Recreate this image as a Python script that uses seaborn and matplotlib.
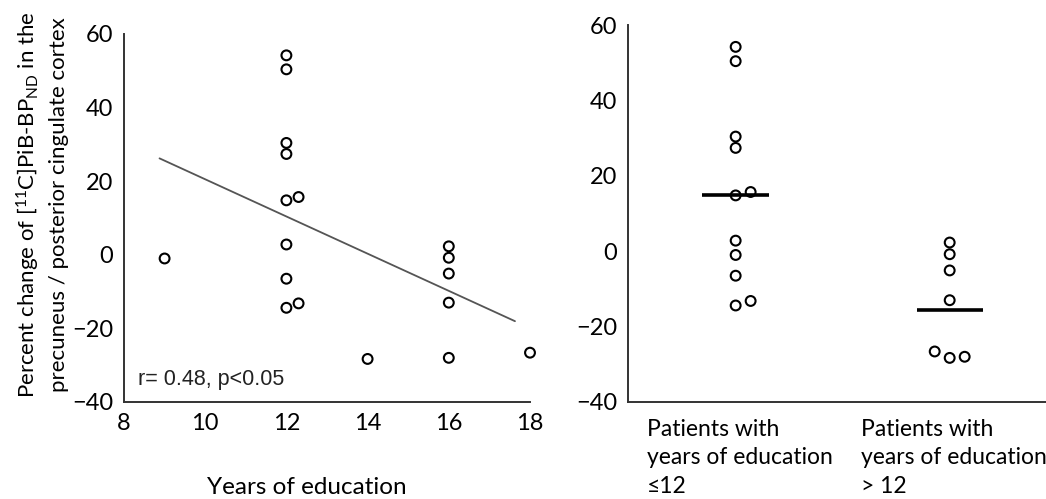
import numpy as np
import pandas as pd
import matplotlib
matplotlib.use("Agg")
import matplotlib.pyplot as plt
from matplotlib.transforms import ScaledTranslation
import seaborn as sns

# values
years = [9, 12, 12, 12, 12, 12, 12, 12, 12, 12, 12, 14, 16, 16, 16, 16, 16, 18]
pib_change = [-1.0, 54.2, 50.4, 30.4, 27.4, 15.7, 14.8, 2.8, -6.5, -14.4, -13.2,
              -28.3, 2.3, -0.8, -5.1, -13.0, -28.0, -26.6]
fit_span = [8.875, 17.63]
group_labels = ["Patients with\nyears of education\n\u226412",
                "Patients with\nyears of education\n> 12"]
group_bar = [14.9, -15.7]
stat_text = "r= 0.48, p<0.05"

df = pd.DataFrame({"years": years, "change": pib_change})
df["group"] = np.where(df["years"] <= 12, 0, 1)


def spread(values, step, gap=2.0):
    # push near-equal values sideways: 0, +step, -step, ...
    v = np.asarray(values, dtype=float)
    order = np.argsort(v)
    out = np.zeros(len(v))
    pattern = [0, 1, -1, 2, -2]
    k = 0
    for i, idx in enumerate(order):
        if i > 0 and v[idx] - v[order[i - 1]] < gap:
            k += 1
        else:
            k = 0
        out[idx] = pattern[k % len(pattern)] * step
    return out


df["x_left"] = df["years"].astype(float)
for yr, sub in df.groupby("years"):
    df.loc[sub.index, "x_left"] = yr + spread(sub["change"], 0.3)
df["x_right"] = df["group"].astype(float)
for g, sub in df.groupby("group"):
    df.loc[sub.index, "x_right"] = g + spread(sub["change"], 0.07)

sns.set_style("white")
plt.rcParams["font.family"] = ["Lato", "DejaVu Sans"]
plt.rcParams["mathtext.fontset"] = "custom"
plt.rcParams["mathtext.rm"] = "Lato"
plt.rcParams["mathtext.it"] = "Lato:italic"
plt.rcParams["text.color"] = "black"
plt.rcParams["xtick.color"] = "black"
plt.rcParams["ytick.color"] = "black"
plt.rcParams["axes.labelcolor"] = "black"

fig = plt.figure(figsize=(10.46, 4.99), dpi=100)
ax1 = fig.add_axes([124 / 1046, 97 / 499, 406 / 1046, 368 / 499])
ax2 = fig.add_axes([628 / 1046, 97 / 499, 418 / 1046, 377 / 499])

spine_col = "#333333"
for ax in (ax1, ax2):
    for s in ("top", "right"):
        ax.spines[s].set_visible(False)
    for s in ("left", "bottom"):
        ax.spines[s].set_color(spine_col)
        ax.spines[s].set_linewidth(1.4)
    ax.set_ylim(-40, 60)
    ax.set_yticks([-40, -20, 0, 20, 40, 60])
    ax.tick_params(axis="y", length=6, width=1.2, color=spine_col, labelsize=17, pad=2)

# left: scatter with regression line
sns.scatterplot(data=df, x="x_left", y="change", ax=ax1, s=50, marker="o",
                facecolors="none", edgecolors="black", linewidth=1.5, clip_on=False)
slope, icpt = np.polyfit(df["years"], df["change"], 1)
xs = np.array(fit_span)
ax1.plot(xs, slope * xs + icpt, color="#555555", lw=1.3)
ax1.set_xlim(8, 18)
ax1.set_xticks([8, 10, 12, 14, 16, 18])
ax1.tick_params(axis="x", length=6, width=1.2, color=spine_col, labelsize=17, pad=2)
ax1.set_xlabel("Years of education", fontsize=17.5)
ax1.xaxis.set_label_coords((307 - 124) / 406, -0.205)
ax1.set_ylabel("")
ax1.text(8.345, -35.5, stat_text, fontsize=15.5, va="baseline",
         family=["Liberation Sans", "DejaVu Sans"], color="#222222")

fig.text(42 / 1046, 0.589,
         "Percent change of [$^{\\mathregular{11}}$C]PiB-BP$_{\\mathregular{ND}}$ in the\n"
         "precuneus / posterior cingulate cortex",
         rotation=90, ha="center", va="center", multialignment="center",
         fontsize=16, linespacing=1.45)

# right: grouped dot plot with bars
sns.scatterplot(data=df, x="x_right", y="change", ax=ax2, s=50, marker="o",
                facecolors="none", edgecolors="black", linewidth=1.5)
ax2.hlines(group_bar, [g - 0.155 for g in range(2)], [g + 0.155 for g in range(2)],
           colors="black", lw=2.6)
ax2.set_xlim(-0.503, 1.45)
ax2.set_xticks([0, 1])
ax2.set_xticklabels(group_labels, ha="left", fontsize=16.5, linespacing=1.45, va="top")
ax2.tick_params(axis="x", length=0, pad=12)
for lab in ax2.get_xticklabels():
    lab.set_transform(lab.get_transform() + ScaledTranslation(-0.89, 0, fig.dpi_scale_trans))
ax2.set_xlabel("")
ax2.set_ylabel("")

fig.savefig("out.png", dpi=100)
